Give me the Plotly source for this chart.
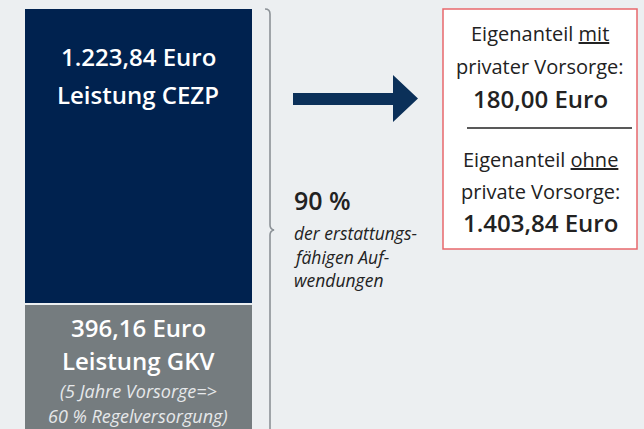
import plotly.graph_objects as go

# ---- data ----
categories = ["Kosten"]
leistung_cezp = [1223.84]
leistung_gkv = [396.16]
eigenanteil_mit = 180.00
eigenanteil_ohne = 1403.84
erstattung_pct = 90

W, H = 644, 429
FONT = "Open Sans"
NAVY = "#00224f"
GRAY = "#757c7f"
BG = "#eceff1"
ARROW = "#0b3059"


def px(x):
    return x / W


def py(y):
    return 1 - y / H


def de(v):
    s = f"{v:,.2f}"
    return s.replace(",", "X").replace(".", ",").replace("X", ".")


fig = go.Figure()
fig.add_trace(go.Bar(x=categories, y=leistung_cezp, marker=dict(color=NAVY, line=dict(width=0)),
                     width=1, xaxis="x", yaxis="y", hoverinfo="skip", showlegend=False))
fig.add_trace(go.Bar(x=categories, y=leistung_gkv, marker=dict(color=GRAY, line=dict(width=0)),
                     width=1, xaxis="x2", yaxis="y2", hoverinfo="skip", showlegend=False))

xd = [px(25), px(252)]
hidden = dict(visible=False, fixedrange=True)
fig.update_layout(
    width=W, height=H,
    margin=dict(l=0, r=0, t=0, b=0),
    paper_bgcolor=BG, plot_bgcolor="rgba(0,0,0,0)",
    xaxis=dict(domain=xd, range=[-0.5, 0.5], **hidden),
    yaxis=dict(domain=[py(303), py(9)], range=[0, leistung_cezp[0]], **hidden),
    xaxis2=dict(domain=xd, range=[-0.5, 0.5], anchor="y2", **hidden),
    yaxis2=dict(domain=[0, py(305)], range=[0, leistung_gkv[0]], anchor="x2", **hidden),
    font=dict(family=FONT),
)

shapes = []
# curly bracket
path = (f"M {px(265)} {py(9)} Q {px(270)} {py(9)} {px(270)} {py(14)} "
        f"L {px(270)} {py(225)} Q {px(270)} {py(229)} {px(274)} {py(230)} "
        f"Q {px(270)} {py(231)} {px(270)} {py(235)} L {px(270)} {py(440)}")
shapes.append(dict(type="path", xref="paper", yref="paper", path=path,
                   line=dict(color="#8c9297", width=1.6)))
# arrow
pts = [(293, 93), (393, 93), (393, 75), (418, 98.5), (393, 122), (393, 105), (293, 105)]
apath = "M " + " L ".join(f"{px(x)} {py(y)}" for x, y in pts) + " Z"
shapes.append(dict(type="path", xref="paper", yref="paper", path=apath,
                   fillcolor=ARROW, line=dict(width=0)))
# red box
shapes.append(dict(type="rect", xref="paper", yref="paper", x0=px(443), x1=px(637),
                   y0=py(249), y1=py(9), fillcolor="white", line=dict(color="#e8686c", width=1.5),
                   layer="below"))
shapes.append(dict(type="line", xref="paper", yref="paper", x0=px(467), x1=px(632),
                   y0=py(128), y1=py(128), line=dict(color="#222", width=1.3)))
fig.update_layout(shapes=shapes)


def ann(text, x, y, size, color, xanchor="center", weight="normal", style="normal"):
    fig.add_annotation(text=text, x=px(x), y=py(y), xref="paper", yref="paper",
                       xanchor=xanchor, yanchor="middle", showarrow=False,
                       font=dict(family=FONT, size=size, color=color, weight=weight, style=style))


# bar labels
ann(f"{de(leistung_cezp[0])} Euro", 138, 56, 24, "white", weight=600)
ann("Leistung CEZP", 138, 95, 24, "white", weight=600)
ann(f"{de(leistung_gkv[0])} Euro", 138, 327, 24, "white", weight=600)
ann("Leistung GKV", 138, 360, 24, "white", weight=600)
ann("(5 Jahre Vorsorge=>", 138, 391, 18, "#e6e8ea", style="italic")
ann("60 % Regelversorgung)", 138, 416, 18, "#e6e8ea", style="italic")

# middle text
ann(f"{erstattung_pct} %", 292, 200, 25, "#222222", xanchor="left", weight=600)
ann("der erstattungs-", 292, 233, 17.5, "#222222", xanchor="left", style="italic")
ann("fähigen Auf-", 292, 257, 17.5, "#222222", xanchor="left", style="italic")
ann("wendungen", 292, 280, 17.5, "#222222", xanchor="left", style="italic")

# box text
ann("Eigenanteil <u>mit</u>", 540, 34, 20, "#222222")
ann("privater Vorsorge:", 540, 66, 20, "#222222")
ann(f"{de(eigenanteil_mit)} Euro", 540, 98, 24, "#222222", weight=600)
ann("Eigenanteil <u>ohne</u>", 540, 159, 20, "#222222")
ann("private Vorsorge:", 540, 191, 20, "#222222")
ann(f"{de(eigenanteil_ohne)} Euro", 540, 222, 24, "#222222", weight=600)

fig.write_html("out.html")
